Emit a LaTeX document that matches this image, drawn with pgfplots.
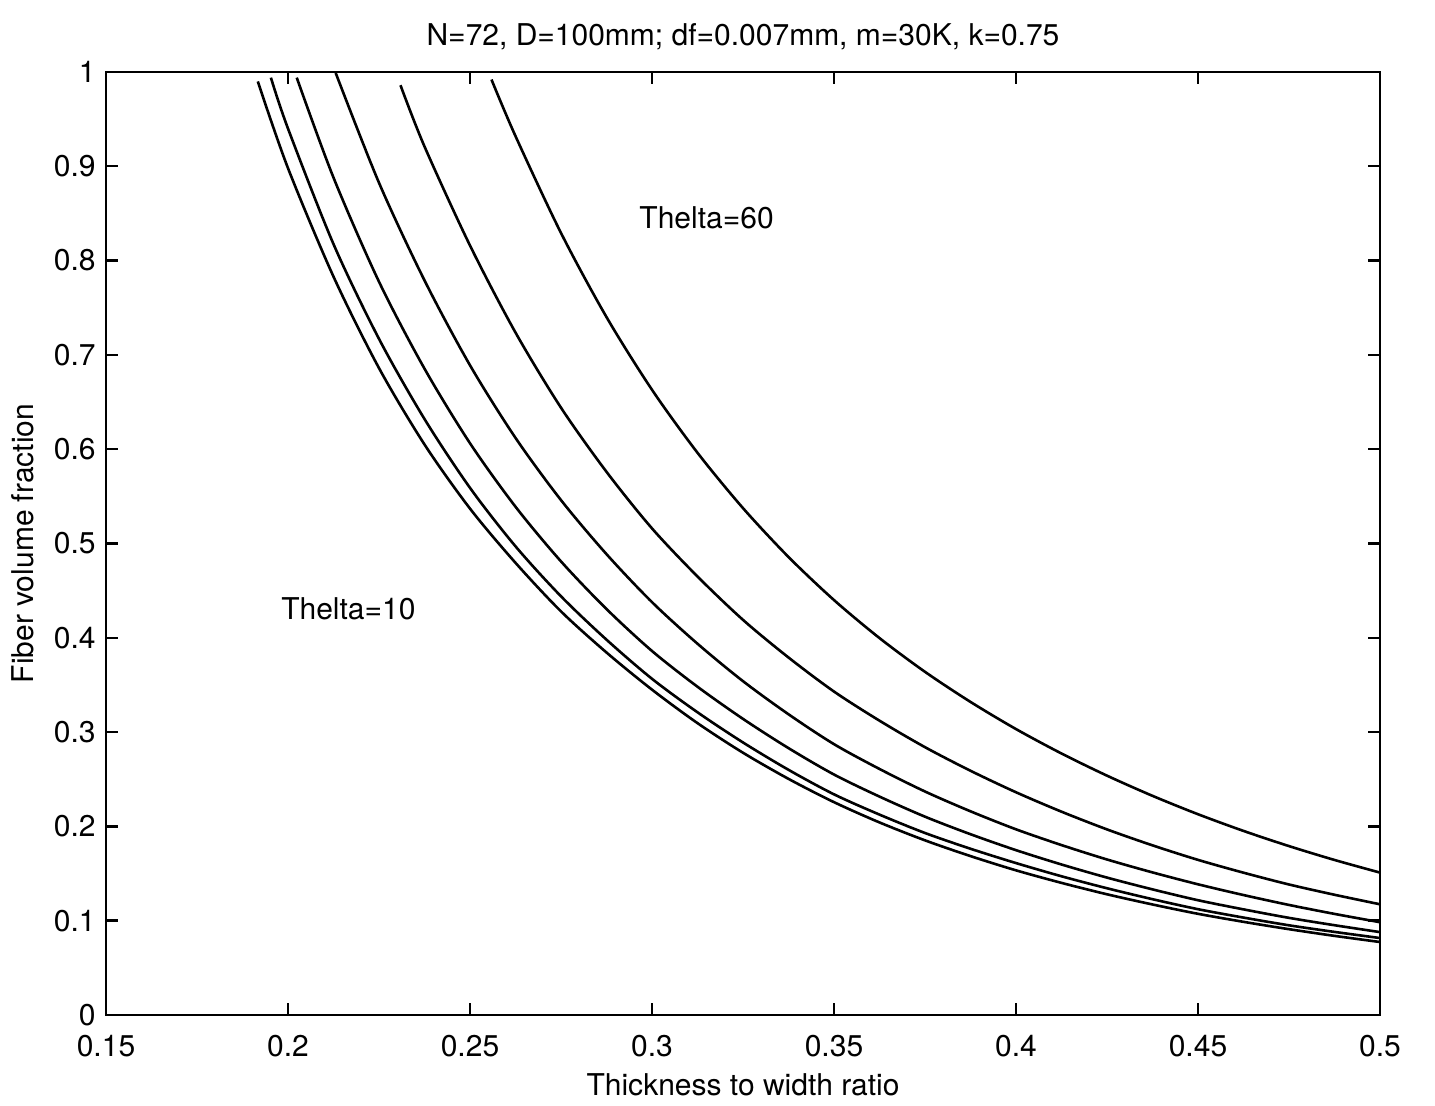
\documentclass[border=0pt]{standalone}
\usepackage{fontspec}
\setmainfont{TeX Gyre Heros}
\usepackage{pgfplots}
\pgfplotsset{compat=1.18}

% curves, Thelta=10 (c1) ... Thelta=60 (c6)
\pgfplotstableread{
x y
0.1917 0.990
0.2000 0.898
0.2125 0.783
0.2250 0.686
0.2375 0.605
0.2500 0.537
0.2625 0.4795
0.2750 0.428
0.2875 0.3844
0.3000 0.345
0.3125 0.3095
0.3250 0.2781
0.3375 0.2504
0.3500 0.2257
0.3625 0.2042
0.3750 0.1852
0.3875 0.1685
0.4000 0.1534
0.4125 0.1401
0.4250 0.128
0.4375 0.1172
0.4500 0.1073
0.4625 0.0988
0.4750 0.091
0.4875 0.0839
0.5000 0.0774
}\cone
\pgfplotstableread{
x y
0.1953 0.994
0.2000 0.940
0.2125 0.8175
0.2250 0.717
0.2375 0.632
0.2500 0.559
0.2625 0.497
0.2750 0.444
0.2875 0.398
0.3000 0.3565
0.3125 0.321
0.3250 0.289
0.3375 0.260
0.3500 0.234
0.3625 0.2125
0.3750 0.193
0.3875 0.1763
0.4000 0.1611
0.4125 0.1471
0.4250 0.1344
0.4375 0.1228
0.4500 0.1122
0.4625 0.1033
0.4750 0.0951
0.4875 0.0881
0.5000 0.0816
}\ctwo
\pgfplotstableread{
x y
0.2024 0.994
0.2125 0.888
0.2250 0.7776
0.2375 0.6854
0.2500 0.6063
0.2625 0.539
0.2750 0.481
0.2875 0.4305
0.3000 0.386
0.3125 0.3481
0.3250 0.314
0.3375 0.283
0.3500 0.255
0.3625 0.2316
0.3750 0.2103
0.3875 0.1917
0.4000 0.1748
0.4125 0.1596
0.4250 0.1457
0.4375 0.1332
0.4500 0.1217
0.4625 0.112
0.4750 0.103
0.4875 0.0952
0.5000 0.0879
}\cthree
\pgfplotstableread{
x y
0.2131 0.999
0.2250 0.8825
0.2375 0.779
0.2500 0.689
0.2625 0.612
0.2750 0.546
0.2875 0.4887
0.3000 0.4378
0.3125 0.3937
0.3250 0.354
0.3375 0.3189
0.3500 0.2872
0.3625 0.2609
0.3750 0.237
0.3875 0.216
0.4000 0.1969
0.4125 0.1802
0.4250 0.1649
0.4375 0.1512
0.4500 0.1386
0.4625 0.1272
0.4750 0.1167
0.4875 0.1072
0.5000 0.0984
}\cfour
\pgfplotstableread{
x y
0.2309 0.986
0.2375 0.921
0.2500 0.816
0.2625 0.7237
0.2750 0.644
0.2875 0.576
0.3000 0.516
0.3125 0.465
0.3250 0.419
0.3375 0.3791
0.3500 0.343
0.3625 0.3121
0.3750 0.284
0.3875 0.259
0.4000 0.2362
0.4125 0.2156
0.4250 0.1968
0.4375 0.1799
0.4500 0.1645
0.4625 0.1509
0.4750 0.1384
0.4875 0.1275
0.5000 0.1174
}\cfive
\pgfplotstableread{
x y
0.2559 0.992
0.2625 0.932
0.2750 0.8293
0.2875 0.7401
0.3000 0.663
0.3125 0.5962
0.3250 0.5375
0.3375 0.4857
0.3500 0.4400
0.3625 0.3997
0.3750 0.3639
0.3875 0.3320
0.4000 0.3032
0.4125 0.2773
0.4250 0.2538
0.4375 0.2324
0.4500 0.2129
0.4625 0.1952
0.4750 0.1791
0.4875 0.1644
0.5000 0.1510
}\csix

\begin{document}
\fontsize{15}{18}\selectfont
\begin{tikzpicture}
\begin{axis}[
    scale only axis,
    width=637pt, height=471.5pt,
    xmin=0.15, xmax=0.5, ymin=0, ymax=1,
    xtick={0.15,0.2,0.25,0.3,0.35,0.4,0.45,0.5},
    ytick={0,0.1,0.2,0.3,0.4,0.5,0.6,0.7,0.8,0.9,1},
    /pgf/number format/assume math mode=true,
    /pgf/number format/fixed,
    /pgf/number format/precision=2,
    tick align=inside,
    major tick length=6pt,
    axis line style={line width=1.2pt},
    every tick/.style={black, line width=1.2pt},
    xticklabel style={yshift=-5pt},
    title={N=72, D=100mm; df=0.007mm, m=30K, k=0.75},
    xlabel={Thickness to width ratio},
    ylabel={Fiber volume fraction},
    xlabel style={yshift=2pt},
]
\addplot[black, line width=1.3pt, smooth] table {\cone};
\addplot[black, line width=1.3pt, smooth] table {\ctwo};
\addplot[black, line width=1.3pt, smooth] table {\cthree};
\addplot[black, line width=1.3pt, smooth] table {\cfour};
\addplot[black, line width=1.3pt, smooth] table {\cfive};
\addplot[black, line width=1.3pt, smooth] table {\csix};
\node at (axis cs:0.315,0.845) {Thelta=60};
\node at (axis cs:0.2166,0.431) {Thelta=10};
\end{axis}
\path (current axis.south west) ++(-53pt,-44pt) rectangle ([xshift=27.5pt,yshift=36pt]current axis.north east);
\end{tikzpicture}
\end{document}
